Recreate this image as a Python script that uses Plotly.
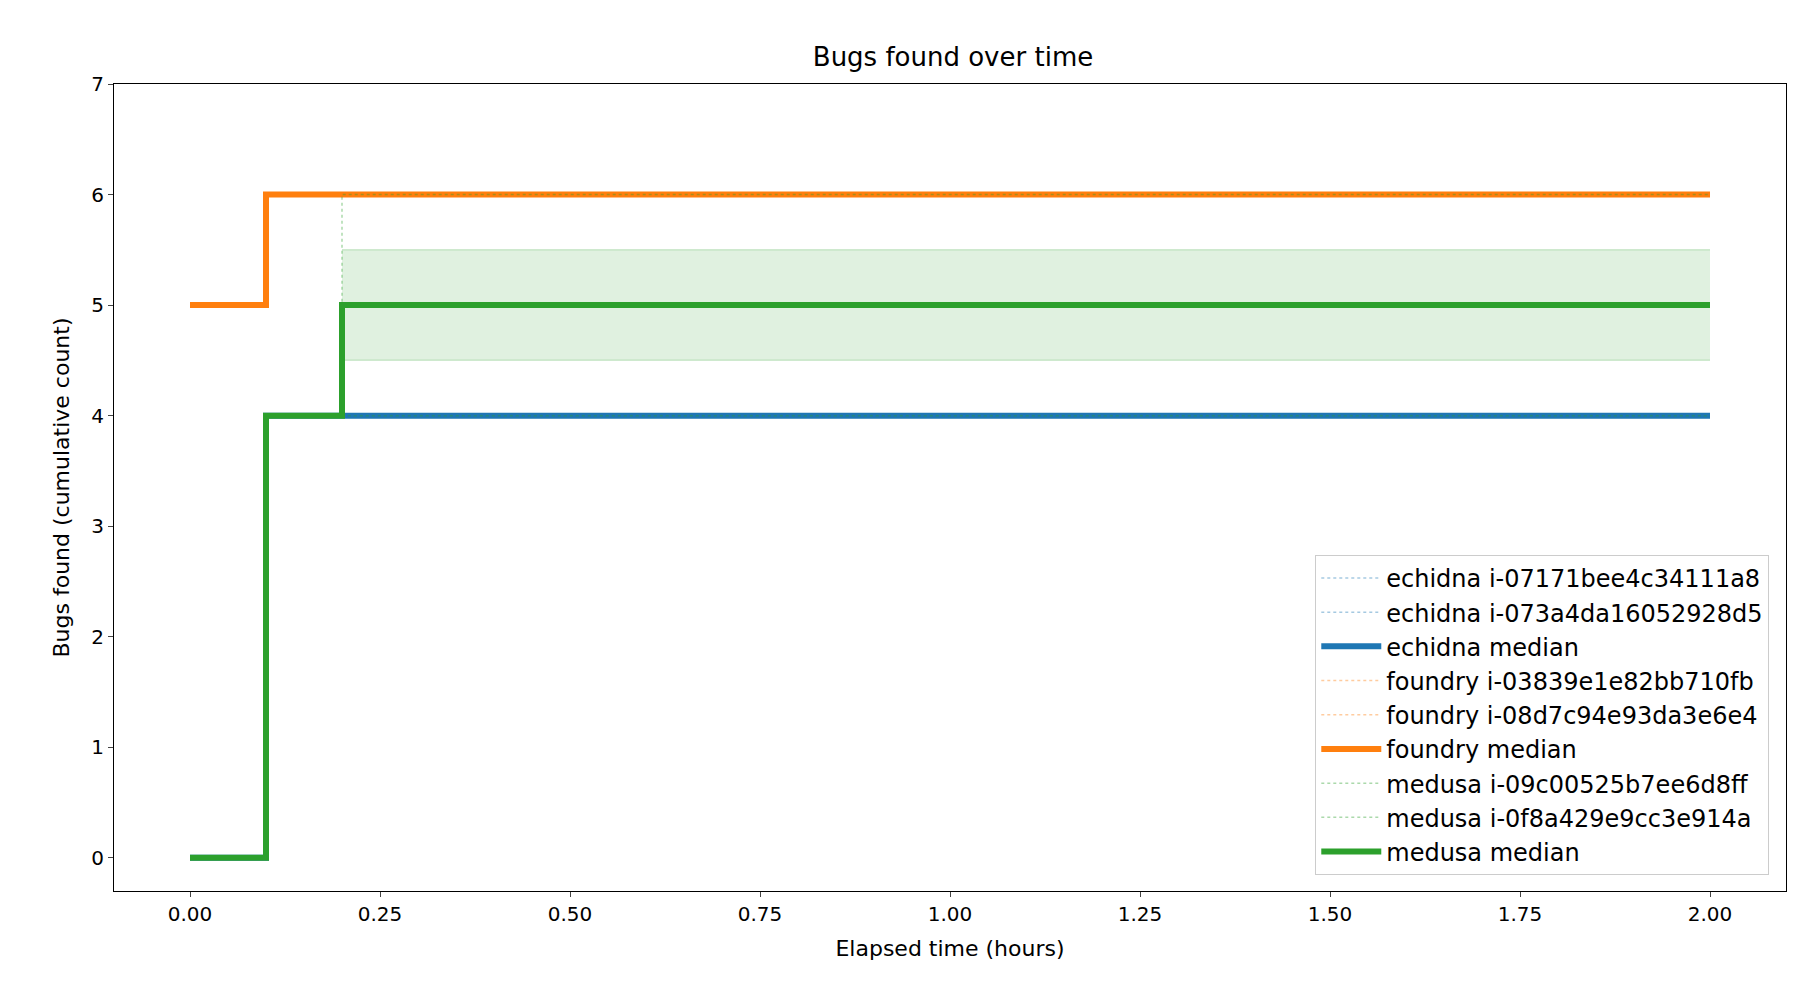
import plotly.graph_objects as go

t = [0.0, 0.1, 0.2, 2.0]
echidna_runs = {"i-07171bee4c34111a8": [0, 4, 4, 4], "i-073a4da16052928d5": [0, 4, 4, 4]}
echidna_median = [0, 4, 4, 4]
foundry_runs = {"i-03839e1e82bb710fb": [5, 6, 6, 6], "i-08d7c94e93da3e6e4": [5, 6, 6, 6]}
foundry_median = [5, 6, 6, 6]
medusa_runs = {"i-09c00525b7ee6d8ff": [0, 4, 6, 6], "i-0f8a429e9cc3e914a": [0, 4, 4, 4]}
medusa_median = [0, 4, 5, 5]
band_t = [0.2, 2.0]
medusa_lo = [4.5, 4.5]
medusa_hi = [5.5, 5.5]

tools = [
    ("echidna", echidna_runs, echidna_median, "#1f77b4", "rgba(31,119,180,0.4)"),
    ("foundry", foundry_runs, foundry_median, "#ff7f0e", "rgba(255,127,14,0.4)"),
    ("medusa", medusa_runs, medusa_median, "#2ca02c", "rgba(44,160,44,0.4)"),
]

fig = go.Figure()
fig.add_trace(go.Scatter(x=band_t, y=medusa_lo, mode="lines", line=dict(width=1.5, color="rgba(44,160,44,0.2)"),
                         showlegend=False, hoverinfo="skip"))
fig.add_trace(go.Scatter(x=band_t, y=medusa_hi, mode="lines", line=dict(width=1.5, color="rgba(44,160,44,0.2)"),
                         fill="tonexty", fillcolor="rgba(44,160,44,0.15)", showlegend=False, hoverinfo="skip"))
for name, runs, med, col, faint in tools:
    for rid, vals in runs.items():
        fig.add_trace(go.Scatter(x=t, y=vals, mode="lines", line_shape="hv",
                                 line=dict(color=faint, width=1.5, dash="dot"), name=f"{name} {rid}"))
    fig.add_trace(go.Scatter(x=t, y=med, mode="lines", line_shape="hv",
                             line=dict(color=col, width=6), name=f"{name} median"))

fig.update_layout(
    width=1800, height=1000, plot_bgcolor="white", paper_bgcolor="white",
    font=dict(family="DejaVu Sans", size=20, color="black"),
    title=dict(text="Bugs found over time", x=0.525, xanchor="center", y=0.96, font=dict(size=26)),
    margin=dict(l=106, r=22, t=76, b=117),
    xaxis=dict(title=dict(text="Elapsed time (hours)", font=dict(size=22)), range=[-0.1, 2.1],
               tickvals=[0, 0.25, 0.5, 0.75, 1, 1.25, 1.5, 1.75, 2],
               ticktext=["0.00", "0.25", "0.50", "0.75", "1.00", "1.25", "1.50", "1.75", "2.00"],
               showline=True, mirror=True, linecolor="black", ticks="outside", showgrid=False, zeroline=False),
    yaxis=dict(title=dict(text="Bugs found (cumulative count)", font=dict(size=22)), range=[-0.3, 7], dtick=1,
               showline=True, mirror=True, linecolor="black", ticks="outside", showgrid=False, zeroline=False),
    legend=dict(x=0.99, y=0.02, xanchor="right", yanchor="bottom", bordercolor="#cccccc", borderwidth=1,
                traceorder="normal", tracegroupgap=0, itemwidth=60,
                bgcolor="rgba(255,255,255,0.8)", font=dict(size=24)),
)
fig.write_html("out.html")
